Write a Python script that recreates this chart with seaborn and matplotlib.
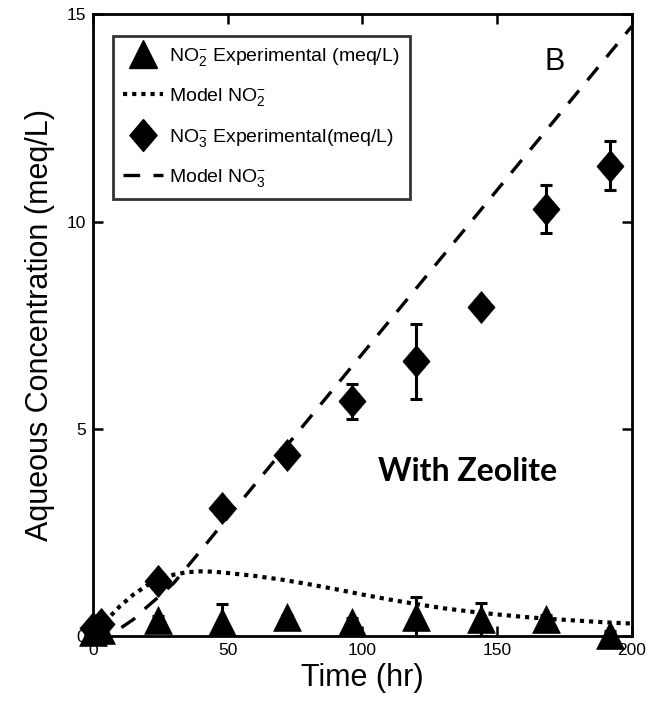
import numpy as np
import pandas as pd
import matplotlib
matplotlib.use("Agg")
import matplotlib.pyplot as plt
from matplotlib.lines import Line2D
import seaborn as sns

# ---------------- data ----------------
t_exp = [0, 3, 24, 48, 72, 96, 120, 144, 168, 192]
no2_exp = [0.10, 0.15, 0.39, 0.33, 0.46, 0.33, 0.45, 0.40, 0.40, 0.02]
no2_err = [0.05, 0.05, 0.10, 0.45, 0.05, 0.10, 0.50, 0.40, 0.10, 0.10]
no3_exp = [0.20, 0.30, 1.33, 3.10, 4.36, 5.66, 6.63, 7.93, 10.30, 11.35]
no3_err = [0.10, 0.10, 0.15, 0.10, 0.10, 0.43, 0.90, 0.10, 0.58, 0.60]

t_model = [0, 5, 10, 15, 20, 25, 30, 35, 40, 45, 50, 60, 70, 80, 90, 100,
           110, 120, 130, 140, 150, 160, 170, 180, 190, 200]
no2_model = [0.0, 0.38, 0.72, 1.00, 1.22, 1.38, 1.48, 1.54, 1.56, 1.55, 1.52,
             1.45, 1.36, 1.25, 1.13, 1.00, 0.88, 0.77, 0.67, 0.59, 0.52,
             0.46, 0.41, 0.37, 0.33, 0.30]
no3_model = [0.0, 0.04, 0.18, 0.40, 0.70, 0.98, 1.28, 1.67, 2.06, 2.46, 2.86,
             3.65, 4.44, 5.23, 6.02, 6.81, 7.60, 8.39, 9.18, 9.97, 10.76,
             11.55, 12.34, 13.13, 13.92, 14.71]

x_ticks = [0, 50, 100, 150, 200]
y_ticks = [0, 5, 10, 15]

exp_df = pd.DataFrame({"t": t_exp, "no2": no2_exp, "no3": no3_exp})
mod_df = pd.DataFrame({"t": t_model, "no2": no2_model, "no3": no3_model})

# ---------------- style ----------------
sns.set_theme(style="ticks")
plt.rcParams["font.family"] = ["Liberation Sans", "DejaVu Sans"]
plt.rcParams["mathtext.fontset"] = "custom"
plt.rcParams["mathtext.rm"] = "Liberation Sans"
plt.rcParams["mathtext.it"] = "Liberation Sans"
plt.rcParams["text.color"] = "black"
plt.rcParams["axes.labelcolor"] = "black"
plt.rcParams["xtick.color"] = "black"
plt.rcParams["ytick.color"] = "black"

fig = plt.figure(figsize=(6.48, 7.15), dpi=100)
ax = fig.add_axes([0.1435, 0.1105, 0.8315, 0.8695])

diamond = [(0, 1), (0.85, 0), (0, -1), (-0.85, 0), (0, 1)]

# model lines
sns.lineplot(data=mod_df, x="t", y="no2", ax=ax, color="black", lw=3.0,
             linestyle=(0, (1.0, 1.2)), zorder=2)
sns.lineplot(data=mod_df, x="t", y="no3", ax=ax, color="black", lw=2.4,
             linestyle=(0, (5, 4)), zorder=2)

# error bars
ax.errorbar(t_exp, no2_exp, yerr=no2_err, fmt="none", ecolor="black",
            elinewidth=2.2, capsize=4, capthick=2.2, zorder=3)
ax.errorbar(t_exp, no3_exp, yerr=no3_err, fmt="none", ecolor="black",
            elinewidth=2.2, capsize=4, capthick=2.2, zorder=3)

# markers
sns.scatterplot(data=exp_df, x="t", y="no2", ax=ax, marker="^", s=20**2,
                color="black", edgecolor="black", linewidth=0.5, zorder=4,
                clip_on=False)
sns.scatterplot(data=exp_df, x="t", y="no3", ax=ax, marker=diamond, s=23**2,
                color="black", edgecolor="black", linewidth=0.5, zorder=4,
                clip_on=False)

ax.set_xlim(0, 200)
ax.set_ylim(0, 15)
ax.set_xticks(x_ticks)
ax.set_yticks(y_ticks)
ax.set_xticklabels([str(v) for v in x_ticks])
ax.set_yticklabels([str(v) for v in y_ticks])
ax.tick_params(direction="in", length=7, width=1.8, top=True, right=True,
               labelsize=12.5, colors="black", pad=5)
for sp in ax.spines.values():
    sp.set_visible(True)
    sp.set_linewidth(2.0)
    sp.set_color("black")

ax.set_xlabel("Time (hr)", fontsize=22, labelpad=4, color="black")
ax.set_ylabel("Aqueous Concentration (meq/L)", fontsize=22, labelpad=8,
              color="black")

ax.text(0.857, 0.923, "B", transform=ax.transAxes, fontsize=22,
        ha="center", va="center", color="black")
ax.text(0.695, 0.264, "With Zeolite", transform=ax.transAxes, fontsize=23,
        fontweight="bold", family=["Lato", "DejaVu Sans"],
        ha="center", va="center", color="black")

handles = [
    Line2D([], [], marker="^", color="black", linestyle="none", markersize=20),
    Line2D([], [], color="black", lw=3.0, linestyle=(0, (1.0, 1.2))),
    Line2D([], [], marker=diamond, color="black", linestyle="none", markersize=23),
    Line2D([], [], color="black", lw=2.4, linestyle=(0, (5, 4))),
]
labels = [
    r"NO$_2^{-}$ Experimental (meq/L)",
    r"Model NO$_2^{-}$",
    r"NO$_3^{-}$ Experimental(meq/L)",
    r"Model NO$_3^{-}$",
]
leg = ax.legend(handles, labels, loc="upper left", bbox_to_anchor=(0.037, 0.965),
                fontsize=14, frameon=True, fancybox=False, handlelength=2.1,
                handletextpad=0.3, labelspacing=0.95, borderpad=0.5,
                borderaxespad=0.0)
leg.get_frame().set_edgecolor("black")
leg.get_frame().set_linewidth(2.0)
for txt in leg.get_texts():
    txt.set_color("black")

fig.savefig("out.png", dpi=100)
